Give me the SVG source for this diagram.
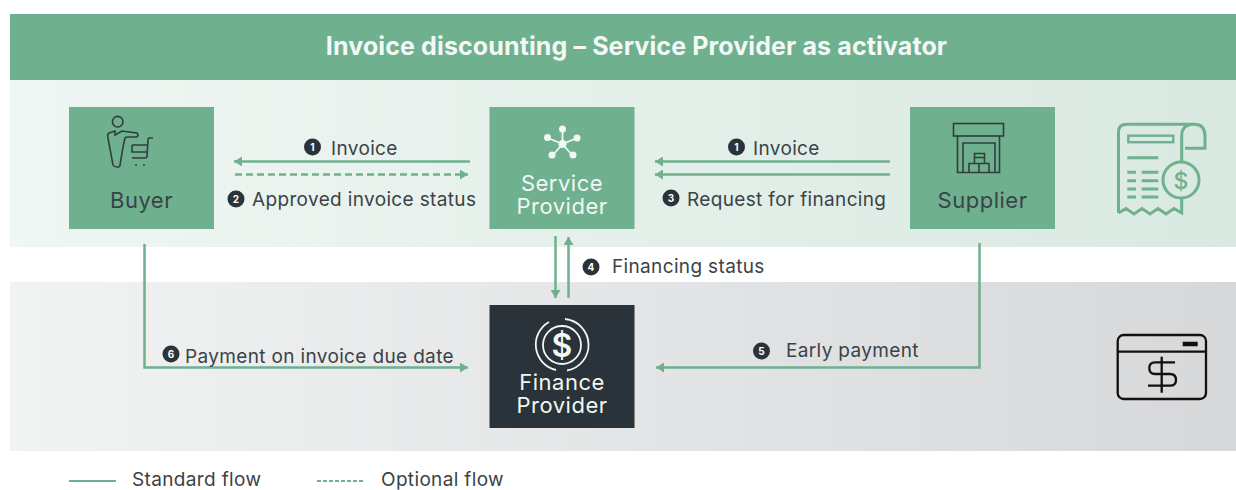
<svg xmlns="http://www.w3.org/2000/svg" width="1236" height="490" viewBox="0 0 1236 490">
<style>
text{font-family:"Inter","Liberation Sans",sans-serif;}
.l{font-size:19px;fill:#3a4347;letter-spacing:.35px}
.n{font-size:22px;text-anchor:middle;letter-spacing:.5px}
.d{fill:#3a4347}.w{fill:#f2f7f4}
.box{fill:#6fb08e}
.c{fill:#2a3339}
.ct{font-size:10px;font-weight:700;fill:#fff;text-anchor:middle}
.f{fill:none;stroke:#6fb08e;stroke-width:2.5}
.dash{stroke-dasharray:7 4}
.ic{fill:none;stroke:#333c3f;stroke-width:1.6}
.iw{fill:none;stroke:#f2f7f4;stroke-width:1.8}
.ig{fill:none;stroke:#6fb08e;stroke-width:3}
</style>
<defs>
<linearGradient id="g1"><stop offset="0" stop-color="#f0f6f3"/><stop offset="1" stop-color="#d9e9e1"/></linearGradient>
<linearGradient id="g2"><stop offset="0" stop-color="#f1f2f2"/><stop offset="1" stop-color="#d7d8da"/></linearGradient>
<marker id="a" markerUnits="userSpaceOnUse" markerWidth="9" markerHeight="10" refX="8" refY="5" orient="auto"><path d="M0 0L8 5L0 10Z" fill="#6fb08e"/></marker>
</defs>
<g id="bands">
<rect x="10" y="14" width="1226" height="66" fill="#6fb08e"/>
<rect x="10" y="80" width="1226" height="167" fill="url(#g1)"/>
<rect x="10" y="282" width="1226" height="169" fill="url(#g2)"/>
<text x="636.500" y="55" font-size="25" font-weight="700" fill="#f4f9f6" text-anchor="middle" letter-spacing=".12">Invoice discounting – Service Provider as activator</text>
</g>
<g id="connectors">
<path class="f" marker-end="url(#a)" d="M470 161.500H234"/>
<path class="f dash" marker-end="url(#a)" d="M235 174.500H468"/>
<path class="f" marker-end="url(#a)" d="M890 161.500H655"/>
<path class="f" marker-end="url(#a)" d="M890 174.500H655"/>
<path class="f" marker-end="url(#a)" d="M555.500 236V298"/>
<path class="f" marker-end="url(#a)" d="M568.500 298V237"/>
<path class="f" marker-end="url(#a)" d="M144.500 244V367.500H468"/>
<path class="f" marker-end="url(#a)" d="M979.500 243V367.500H656"/>
</g>
<g id="buyer">
<rect class="box" x="69" y="107" width="145" height="122"/>
<g class="ic">
<circle cx="117.700" cy="121.700" r="5.300"/>
<path d="M115 131L109 133Q107 134 108 138L113 165Q114 167 117 167H118Q120 167 120 165L123 147L125 138Q126 137 128 137H137Q139 135 137 133L122 131L115 135Z"/>
<path d="M153 138H149Q148 138 148 140L147 156Q147 158 145 158H132M132 145H147M132 145V152H147"/>
</g>
<circle class="d" cx="136" cy="165" r="1"/><circle class="d" cx="144" cy="165" r="1"/>
<text class="n d" x="141.500" y="208">Buyer</text>
</g>
<g id="service-provider">
<rect class="box" x="489.500" y="107" width="145" height="122"/>
<g class="iw"><path d="M562.500 144V128M562.500 144L548 138M562.500 144L577 138M562.500 144L553 155M562.500 144L572 155"/></g>
<g class="w"><circle cx="562.500" cy="144" r="4"/><circle cx="562.500" cy="129" r="3.500"/><circle cx="547.500" cy="137.500" r="3.500"/><circle cx="577" cy="138" r="3.500"/><circle cx="552" cy="155" r="3.500"/><circle cx="573" cy="155" r="3.500"/></g>
<text class="n w"><tspan x="562" y="191">Service</tspan><tspan x="562" y="214">Provider</tspan></text>
</g>
<g id="supplier">
<rect class="box" x="910" y="107" width="145" height="122"/>
<g class="ic">
<rect x="953.500" y="123.500" width="50" height="12.500"/>
<path d="M957.500 136V172.500H999.500V136M963 172.500V143H995V172.500"/>
<path d="M969 172.500V163.500H989V172.500M979 163.500V172.500M974.500 163.500V153.500H984.500V163.500M974.500 157.500H984.500"/>
</g>
<text class="n d" x="982.500" y="208">Supplier</text>
</g>
<g id="finance-provider">
<rect x="489.500" y="305" width="145" height="123" fill="#2a3339"/>
<g class="iw">
<circle cx="562" cy="345" r="19"/>
<path d="M565 319A26 26 0 0 1 567 370.500M556 370A26 26 0 0 1 549 322"/>
</g>
<text x="562" y="357" font-size="32" font-weight="600" class="w" text-anchor="middle">$</text>
<text class="n w"><tspan x="562" y="390">Finance</tspan><tspan x="562" y="413">Provider</tspan></text>
</g>
<g id="labels">
<circle class="c" cx="312.500" cy="147" r="8.500"/><text class="ct" x="312.500" y="150.500">1</text>
<text class="l" x="331" y="154.500">Invoice</text>
<circle class="c" cx="236" cy="199" r="8.500"/><text class="ct" x="236" y="202.500">2</text>
<text class="l" x="252" y="205.500">Approved invoice status</text>
<circle class="c" cx="736.500" cy="147" r="8.500"/><text class="ct" x="736.500" y="150.500">1</text>
<text class="l" x="753" y="154.500">Invoice</text>
<circle class="c" cx="671" cy="198" r="8.500"/><text class="ct" x="671" y="201.500">3</text>
<text class="l" x="687" y="205.500">Request for financing</text>
<circle class="c" cx="591" cy="267" r="8.500"/><text class="ct" x="591" y="270.500">4</text>
<text class="l" x="612" y="273">Financing status</text>
<circle class="c" cx="761.500" cy="351" r="8.500"/><text class="ct" x="761.500" y="354.500">5</text>
<text class="l" x="786" y="357">Early payment</text>
<circle class="c" cx="171" cy="354" r="8.500"/><text class="ct" x="171" y="357.500">6</text>
<text class="l" x="185" y="363">Payment on invoice due date</text>
</g>
<g id="receipt-icon" class="ig">
<path d="M1118.500 213V132Q1118.500 124.300 1127 124.300H1194Q1205 124.300 1205 136V148.300H1185M1181.700 162V136Q1181.700 124.300 1194 124.300"/>
<path d="M1181.700 199V213L1174 208.500L1166 214L1158 208.500L1150 214L1142 208.500L1134 214L1126 208.500L1118.500 213"/>
<rect x="1128.300" y="135.700" width="45" height="6.500" stroke-width="2.400"/>
<path d="M1127.300 157.700H1158.300M1127.300 172.300H1136M1141.700 172.300H1158.300M1127.300 180.700H1136M1141.700 180.700H1158.300M1127.300 189H1136M1141.700 189H1158.300M1127.300 197H1136M1141.700 197H1158.300"/>
<circle cx="1181" cy="180" r="18"/>
<text x="1181" y="188.500" font-size="23" font-weight="500" fill="#6fb08e" stroke="none" text-anchor="middle">$</text>
</g>
<g id="browser-icon" fill="none" stroke="#111" stroke-width="2.300">
<rect x="1117.700" y="335" width="88.300" height="64" rx="6"/>
<path d="M1117.700 351.700H1206"/>
<path d="M1182.700 344H1197.700" stroke-width="4.500"/>
<path d="M1175 362.300H1155Q1149.300 362.300 1149.300 368Q1149.300 374 1155 374H1170Q1176 374 1176 380Q1176 385.700 1170 385.700H1148M1161.700 356.700V392.700"/>
</g>
<g id="legend">
<path d="M69 481H116" stroke="#6fb08e" stroke-width="2" fill="none"/>
<path d="M317 481H364" stroke="#6fb08e" stroke-width="2" stroke-dasharray="4 2" fill="none"/>
<text class="l" x="132" y="485.500">Standard flow</text>
<text class="l" x="381" y="485.500">Optional flow</text>
</g>
</svg>
